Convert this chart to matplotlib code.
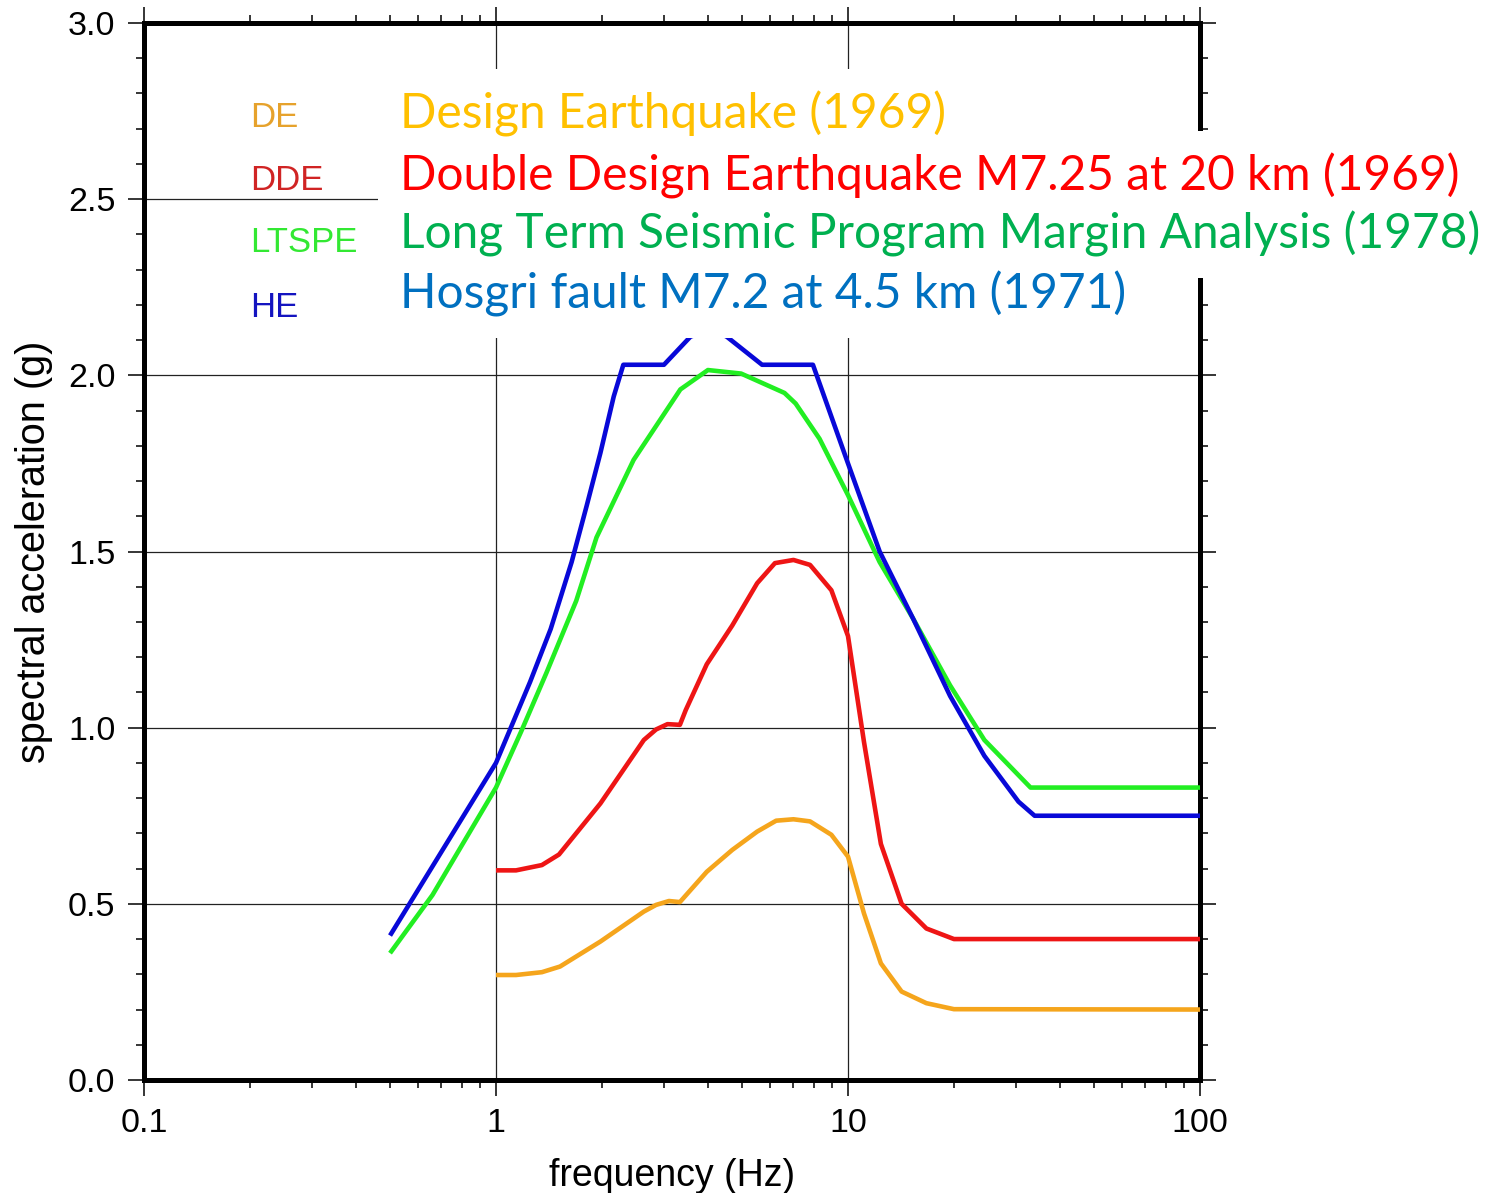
import matplotlib
matplotlib.use("Agg")
import matplotlib.pyplot as plt
from matplotlib.ticker import LogLocator, MultipleLocator, FixedLocator, FixedFormatter

# spectra: frequency (Hz) and spectral acceleration (g)
de_f = [1.0, 1.14, 1.35, 1.52, 1.98, 2.63, 2.85, 3.10, 3.33, 3.97, 4.69, 5.52, 6.25,
        7.0, 7.8, 8.97, 10.0, 11.1, 12.4, 14.2, 16.7, 20.0, 100]
de_sa = [0.298, 0.298, 0.306, 0.322, 0.393, 0.478, 0.497, 0.508, 0.505, 0.591, 0.653,
         0.705, 0.736, 0.740, 0.734, 0.696, 0.634, 0.473, 0.331, 0.251, 0.218, 0.201, 0.20]

dde_f = [1.0, 1.14, 1.35, 1.51, 1.98, 2.63, 2.85, 3.07, 3.33, 3.46, 3.97, 4.69, 5.52,
         6.2, 7.0, 7.8, 8.97, 10.0, 11.1, 12.4, 14.2, 16.7, 20.0, 100]
dde_sa = [0.595, 0.595, 0.61, 0.64, 0.785, 0.965, 0.995, 1.01, 1.008, 1.05, 1.18, 1.29,
          1.41, 1.467, 1.476, 1.462, 1.39, 1.26, 0.96, 0.67, 0.50, 0.43, 0.40, 0.40]

lt_f = [0.5, 0.66, 1.0, 1.18, 1.39, 1.69, 1.93, 2.46, 3.34, 4.0, 4.97, 6.6, 7.1, 8.3,
        10.0, 12.3, 15.3, 19.5, 24.4, 33.0, 100]
lt_sa = [0.36, 0.525, 0.83, 0.99, 1.155, 1.36, 1.54, 1.76, 1.96, 2.015, 2.005, 1.95,
         1.92, 1.82, 1.66, 1.47, 1.31, 1.12, 0.965, 0.83, 0.83]

he_f = [0.5, 1.0, 1.25, 1.43, 1.64, 1.81, 1.98, 2.16, 2.30, 3.0, 3.57, 4.1, 4.52, 5.7,
        7.95, 10.0, 12.3, 15.3, 19.5, 24.4, 30.5, 33.9, 100]
he_sa = [0.41, 0.90, 1.13, 1.28, 1.47, 1.63, 1.78, 1.94, 2.03, 2.03, 2.11, 2.13, 2.11,
         2.03, 2.03, 1.75, 1.50, 1.31, 1.09, 0.92, 0.79, 0.75, 0.75]

short_labels = ["DE", "DDE", "LTSPE", "HE"]
long_labels = ["Design Earthquake (1969)",
               "Double Design Earthquake M7.25 at 20 km (1969)",
               "Long Term Seismic Program Margin Analysis (1978)",
               "Hosgri fault M7.2 at 4.5 km (1971)"]
x_ticks = [0.1, 1, 10, 100]
x_ticklabels = ["0.1", "1", "10", "100"]

line_colors = ["#F5A51C", "#EE1515", "#22EE22", "#0808D8"]
short_colors = ["#E6A22C", "#D02424", "#33E833", "#1414C0"]
long_colors = ["#FFC000", "#FF0000", "#00B050", "#0070C0"]

plt.rcParams["font.family"] = ["Liberation Sans", "DejaVu Sans"]

fig = plt.figure(figsize=(15.09, 11.93), dpi=100)
ax = fig.add_axes([144 / 1509, 113 / 1193, 1056 / 1509, 1057 / 1193])

lw = 3.3
series = [(de_f, de_sa), (dde_f, dde_sa), (lt_f, lt_sa), (he_f, he_sa)]
for (f, sa), c in zip(series, line_colors):
    ax.plot(f, sa, color=c, lw=lw, solid_joinstyle="round", solid_capstyle="butt", zorder=3)

ax.set_xscale("log")
ax.set_xlim(0.1, 100)
ax.set_ylim(0, 3.0)
ax.xaxis.set_major_locator(FixedLocator(x_ticks))
ax.xaxis.set_major_formatter(FixedFormatter(x_ticklabels))
ax.xaxis.set_minor_locator(LogLocator(base=10, subs=range(2, 10)))
ax.xaxis.set_minor_formatter(plt.NullFormatter())
ax.yaxis.set_major_locator(MultipleLocator(0.5))
ax.yaxis.set_minor_locator(MultipleLocator(0.1))
ax.yaxis.set_major_formatter(plt.FormatStrFormatter("%.1f"))

ax.grid(True, which="major", color="#222222", lw=0.9, zorder=1)
ax.set_axisbelow(True)
for s in ax.spines.values():
    s.set_linewidth(3.6)
ax.tick_params(which="both", direction="out", top=True, right=True, width=1.1,
               labelsize=24.5)
ax.tick_params(which="major", length=11.5, pad=9)
ax.tick_params(which="minor", length=5.8)

ax.set_xlabel("frequency (Hz)", fontsize=27, labelpad=13)
ax.set_ylabel("spectral acceleration (g)", fontsize=28.5, labelpad=11)

# short labels inside the plot
for i, (lab, c) in enumerate(zip(short_labels, short_colors)):
    ax.text(0.1004, [0.911, 0.851, 0.792, 0.731][i], lab, color=c, fontsize=25,
            transform=ax.transAxes, ha="left", va="center", zorder=4)

# overlaid annotation lines: white boxes first, then the coloured text on top
fs0 = 33
y_base = [0.8927, 0.8407, 0.7921, 0.7418]
boxes = []
txts = []
for i, (lab, c) in enumerate(zip(long_labels, long_colors)):
    b = fig.text(400 / 1509, y_base[i], lab, color="none", fontsize=fs0,
                 family=["Lato", "DejaVu Sans"], ha="left", va="baseline",
                 bbox=dict(boxstyle="square,pad=0.45", facecolor="white", edgecolor="none"),
                 zorder=9)
    t = fig.text(400 / 1509, y_base[i], lab, color=c, fontsize=fs0,
                 family=["Lato", "DejaVu Sans"], ha="left", va="baseline", zorder=10)
    boxes.append(b)
    txts.append(t)

fig.canvas.draw()
r = fig.canvas.get_renderer()
w = txts[1].get_window_extent(r).width
fs = fs0 * 1062 / w
for t in boxes + txts:
    t.set_fontsize(fs)

fig.savefig("out.png", dpi=100)
